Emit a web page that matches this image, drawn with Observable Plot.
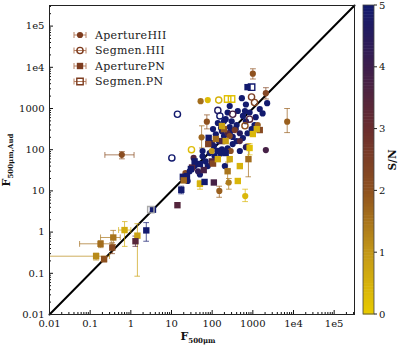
<!DOCTYPE html>
<html><head><meta charset="utf-8">
<script src="https://cdn.jsdelivr.net/npm/d3@7"></script>
<script src="https://cdn.jsdelivr.net/npm/@observablehq/plot@0.6"></script>
<style>body{margin:0;background:#fff} svg{font-family:"DejaVu Serif",serif}</style>
</head><body><div id="chart"></div>
<script>
// ---- data ----
// kinds: AH = Aperture HII, SH = Segmen. HII, AP = Aperture PN, SP = Segmen. PN
const kinds = ["AP","AP","AP","AP","AP","AP","AP","AP","AP","SP","AP","AP","AP","AP","AP","AH","AP","AP","AP","AH",
"AP","AH","AP","AP","AP","AP","AH","SH","SH","SH","AH","AH","AH","AH","AH","SH","SP","SP","AH","AP",
"SP","AH","AH","SH","SH","AH","AH","AH","AH","AH","AH","AH","AH","AH","AH","AH","AH","AH","AH","AH",
"AH","AH","AH","AH","AH","AH","AH","AH","AH","AH","AH","AH","AH","AH","AH","AH","AH","AH","AP","AH",
"AH","AH","AH","AH","AH","AH","AH","AH","AH","AH","AP","AH","AH","AH","SH","SH","AH","AH","AH","AH",
"AH","AP","AP","AP","AH","SH","AP","AH","SH","AH","AH","AH","AP","AP","AP","AP","AH","AP","SH","AH",
"AP","AH","AH","AP","AP","AP","AP","AP","AH","AP","AP","AP","AH","AP","AP"];
const fluxX = [0.14,0.18,0.22,0.35,0.37,0.70,1.45,1.3,2.4,3.1,3.5,14,17.4,50,19,22,24,20,32,25,
30,50,65,110,62,98,35,31,10.2,14,0.6,55,74,52,78,145,240,300,537,741,
933,1000,2090,930,1100,7000,2090,2250,1740,1480,1175,105,138,174,215,270,320,400,479,570,
676,832,240,115,205,240,320,400,570,741,933,1100,479,676,58,58,87,69,50,37,
28,45,78,110,145,195,285,380,165,123,82,98,427,640,155,138,676,270,195,302,
174,215,138,37,160,320,174,479,832,240,270,360,195,105,780,240,150,80,640,1320,
123,255,285,1480,138,832,270,427,650,174,215,479,98,1250,1000];
const fluxY = [0.26,0.52,0.22,0.42,0.74,1.12,0.82,0.6,1.1,3.5,3.5,4.5,10.6,14.8,22,27,23,18,37,17.4,
34,25,16.5,16,32,52,63,100,63,725,75,200,480,1510,1600,1600,1700,1700,1780,3300,
3300,7000,2350,1900,1400,480,98,1350,760,970,615,316,445,282,550,355,204,398,251,660,
490,800,800,69,40,108,137,162,192,251,316,398,93,115,93,69,83,52,45,40,
30,30,40,122,162,214,282,316,335,237,194,145,870,870,660,900,1250,1150,490,490,
102,83,93,52,81,725,162,162,550,251,214,300,316,46,59,30,10,137,380,398,
182,16,93,300,59,110,59,17.4,7.5,375,162,40,93,316,240];
const snr = [1.2,1.6,2.0,2.2,1.5,0.6,0.8,3.4,5,null,5,3.5,5,0.5,5,2.2,5,1.7,3.5,5,
5,5,5,3.8,3.8,3.6,3.6,0.3,5,5,2.1,1.7,2.0,1.6,0.3,0.5,0.2,0.2,5,5,
5,2.0,2.3,2.5,2.3,1.8,3.8,5,5,5,5,5,5,4.8,5,5,5,5,4.6,5,
5,5,5,5,5,5,5,5,5,5,5,5,5,4.5,5,5,5,5,5,5,
5,4.4,5,5,5,5,5,5,5,5,5,4.7,5,5,5,4.7,5,5,5,5,
5,5,5,5,5,3.8,3.7,3.5,3.5,3.6,2.2,2.6,1.9,2.3,1.6,1.5,1.8,2.4,2.0,1.8,
1.6,1.4,2.1,2.2,0.6,0.2,0.7,0.4,0.4,0.8,0.9,0.5,1.0,0.5,0.4];
// vertical error bars: point index, low, high
const yErrIndex = [0,1,2,3,4,5,6,7,8,12,13,30,31,32,41,42,45,114,115,116,121,125,128];
const yErrLow   = [0.21,0.42,0.19,0.30,0.50,0.45,0.085,0.45,0.6,8.5,11,60,110,320,5200,1700,260,22,15,7,11,75,5.5];
const yErrHigh  = [0.31,0.62,0.26,0.55,1.10,1.80,1.60,0.80,1.7,13,18,90,380,700,9200,3200,1000,140,50,13,20,140,11];
// horizontal error bars
const xErrIndex = [0,1,4,5,30];
const xErrLow   = [0.004,0.055,0.18,0.5,0.23];
const xErrHigh  = [0.30,0.33,0.55,1.0,1.2];

const tickValues = [0.01,0.1,1,10,100,1000,1e4,1e5];
const tickLabels = ["0.01","0.1","1","10","100","1000","1e4","1e5"];
const axisMax = 316228;
const identity = [0.01, axisMax];
const snTicks = [0,1,2,3,4,5];
const snColors = ["#e9cb00","#c39818","#8e511f","#6a2d2e","#3d1e4c","#121a6e"];
const legendNames = ["ApertureHII","Segmen.HII","AperturePN","Segmen.PN"];
const legendKinds = ["AH","SH","AP","SP"];

// ---- build ----
const pts = kinds.map((k,i)=>({k, x:fluxX[i], y:fluxY[i], sn:snr[i]}));
const yErr = yErrIndex.map((p,j)=>({x:fluxX[p], lo:yErrLow[j], hi:yErrHigh[j], sn:snr[p]}));
const xErr = xErrIndex.map((p,j)=>({y:fluxY[p], lo:xErrLow[j], hi:xErrHigh[j], sn:snr[p]}));
const labelMap = new Map(tickValues.map((v,i)=>[v,tickLabels[i]]));
const minor = [];
for (let e=-2; e<=5; e++) for (let m=2; m<=9; m++) { const v = m*Math.pow(10,e); if (v < axisMax) minor.push(v); }

const colorOpts = {type:"linear", domain:[0,1,2,3,4,5], range:snColors, clamp:true};
const has = k => d => d.k===k && d.sn!=null;
const dotR = {AH:3.1, SH:3.1, AP:3.6, SP:3.6};
const dotMark = k => (k==="AH"||k==="AP")
  ? Plot.dot(pts.filter(has(k)), {x:"x", y:"y", fill:"sn", r:dotR[k], symbol: k==="AP"?"square":"circle"})
  : Plot.dot(pts.filter(has(k)), {x:"x", y:"y", stroke:"sn", fill:"none", strokeWidth:1.4, r:dotR[k], symbol: k==="SP"?"square":"circle"});

const plot = Plot.plot({
  width:405, height:346,
  marginLeft:49, marginRight:51, marginTop:5, marginBottom:32,
  style:{fontFamily:"DejaVu Serif, serif", fontSize:"10px", color:"#111"},
  x:{type:"log", domain:[0.01, axisMax]},
  y:{type:"log", domain:[0.01, axisMax]},
  color: colorOpts,
  marks:[
    Plot.line(identity.map(v=>({v})), {x:"v", y:"v", stroke:"#000", strokeWidth:2}),
    Plot.link(yErr, {x1:"x", x2:"x", y1:"lo", y2:"hi", stroke:"sn", strokeOpacity:0.7, strokeWidth:1, markerStart:"tick", markerEnd:"tick", clip:true}),
    Plot.link(xErr, {y1:"y", y2:"y", x1:"lo", x2:"hi", stroke:"sn", strokeOpacity:0.7, strokeWidth:1, markerStart:"tick", markerEnd:"tick", clip:true}),
    dotMark("AH"), dotMark("SH"), dotMark("AP"), dotMark("SP"),
    Plot.dot(pts.filter(d=>d.sn==null), {x:"x", y:"y", stroke:"#aaa", fill:"none", strokeWidth:1.4, r:3.6, symbol:"square"}),
    Plot.axisX(tickValues, {tickSize:-4, tickPadding:9, tickFormat:d=>labelMap.get(d), label:null, fontSize:10}),
    Plot.axisX(minor, {tickSize:-2, tickFormat:()=>"", label:null}),
    Plot.axisY(tickValues, {tickSize:-4, tickPadding:9, tickFormat:d=>labelMap.get(d), label:null, fontSize:10}),
    Plot.axisY(minor, {tickSize:-2, tickFormat:()=>"", label:null}),
    Plot.frame({stroke:"#222", strokeWidth:1})
  ]
});
document.getElementById("chart").appendChild(plot);

const svg = d3.select(plot);
const color = Plot.scale({color: colorOpts});
// axis labels
const xl = svg.append("text").attr("x",198).attr("y",340).attr("text-anchor","middle").attr("font-size",11).attr("font-weight","bold").attr("fill","#111");
xl.append("tspan").text("F");
xl.append("tspan").attr("font-size",7).attr("dy",2.5).text("500μm");
const yl = svg.append("text").attr("transform","translate(10,160) rotate(-90)").attr("text-anchor","middle").attr("font-size",11).attr("font-weight","bold").attr("fill","#111");
yl.append("tspan").text("F");
yl.append("tspan").attr("font-size",7).attr("dy",2.5).text("500μm,Aud");

// legend
const legColor = "#7d3c1f", legErr = "#b68063";
legendKinds.forEach((k,i)=>{
  const cy = 35 + i*15.5, cx = 80;
  svg.append("line").attr("x1",cx-6).attr("x2",cx+6).attr("y1",cy).attr("y2",cy).attr("stroke",legErr).attr("stroke-width",1);
  [cx-6,cx+6].forEach(xx=>svg.append("line").attr("x1",xx).attr("x2",xx).attr("y1",cy-3).attr("y2",cy+3).attr("stroke",legErr));
  const filled = (k==="AH"||k==="AP");
  const sym = d3.symbol(k.endsWith("P")?d3.symbolSquare:d3.symbolCircle, Math.PI*dotR[k]*dotR[k]);
  svg.append("path").attr("d",sym()).attr("transform",`translate(${cx},${cy})`)
    .attr("fill", filled?legColor:"none").attr("stroke", filled?"none":legColor).attr("stroke-width",1.4);
  svg.append("text").attr("x",95).attr("y",cy+3.8).attr("text-anchor","start").attr("font-size",11).attr("letter-spacing",0.3).attr("fill","#222").text(legendNames[i]);
});

// colorbar
const cbY = d3.scaleLinear().domain([0,5]).range([314,5]);
const cb = svg.append("g");
const steps = d3.range(0,5,0.05);
steps.forEach(s=>cb.append("rect").attr("x",363).attr("width",11).attr("y",cbY(s+0.05)).attr("height",cbY(s)-cbY(s+0.05)+0.5).attr("fill",color.apply(s+0.025)));
cb.append("rect").attr("x",363).attr("y",5).attr("width",11).attr("height",309).attr("fill","none").attr("stroke","#444").attr("stroke-width",0.8);
snTicks.forEach(t=>{
  cb.append("line").attr("x1",374).attr("x2",377).attr("y1",cbY(t)).attr("y2",cbY(t)).attr("stroke","#222");
  cb.append("text").attr("x",379).attr("y",cbY(t)+3.5).attr("text-anchor","start").attr("font-size",10).attr("fill","#111").text(String(t));
});
cb.append("text").attr("transform","translate(396,160) rotate(-90)").attr("text-anchor","middle").attr("font-size",10.5).attr("font-weight","bold").attr("fill","#111").text("S/N");
</script></body></html>
